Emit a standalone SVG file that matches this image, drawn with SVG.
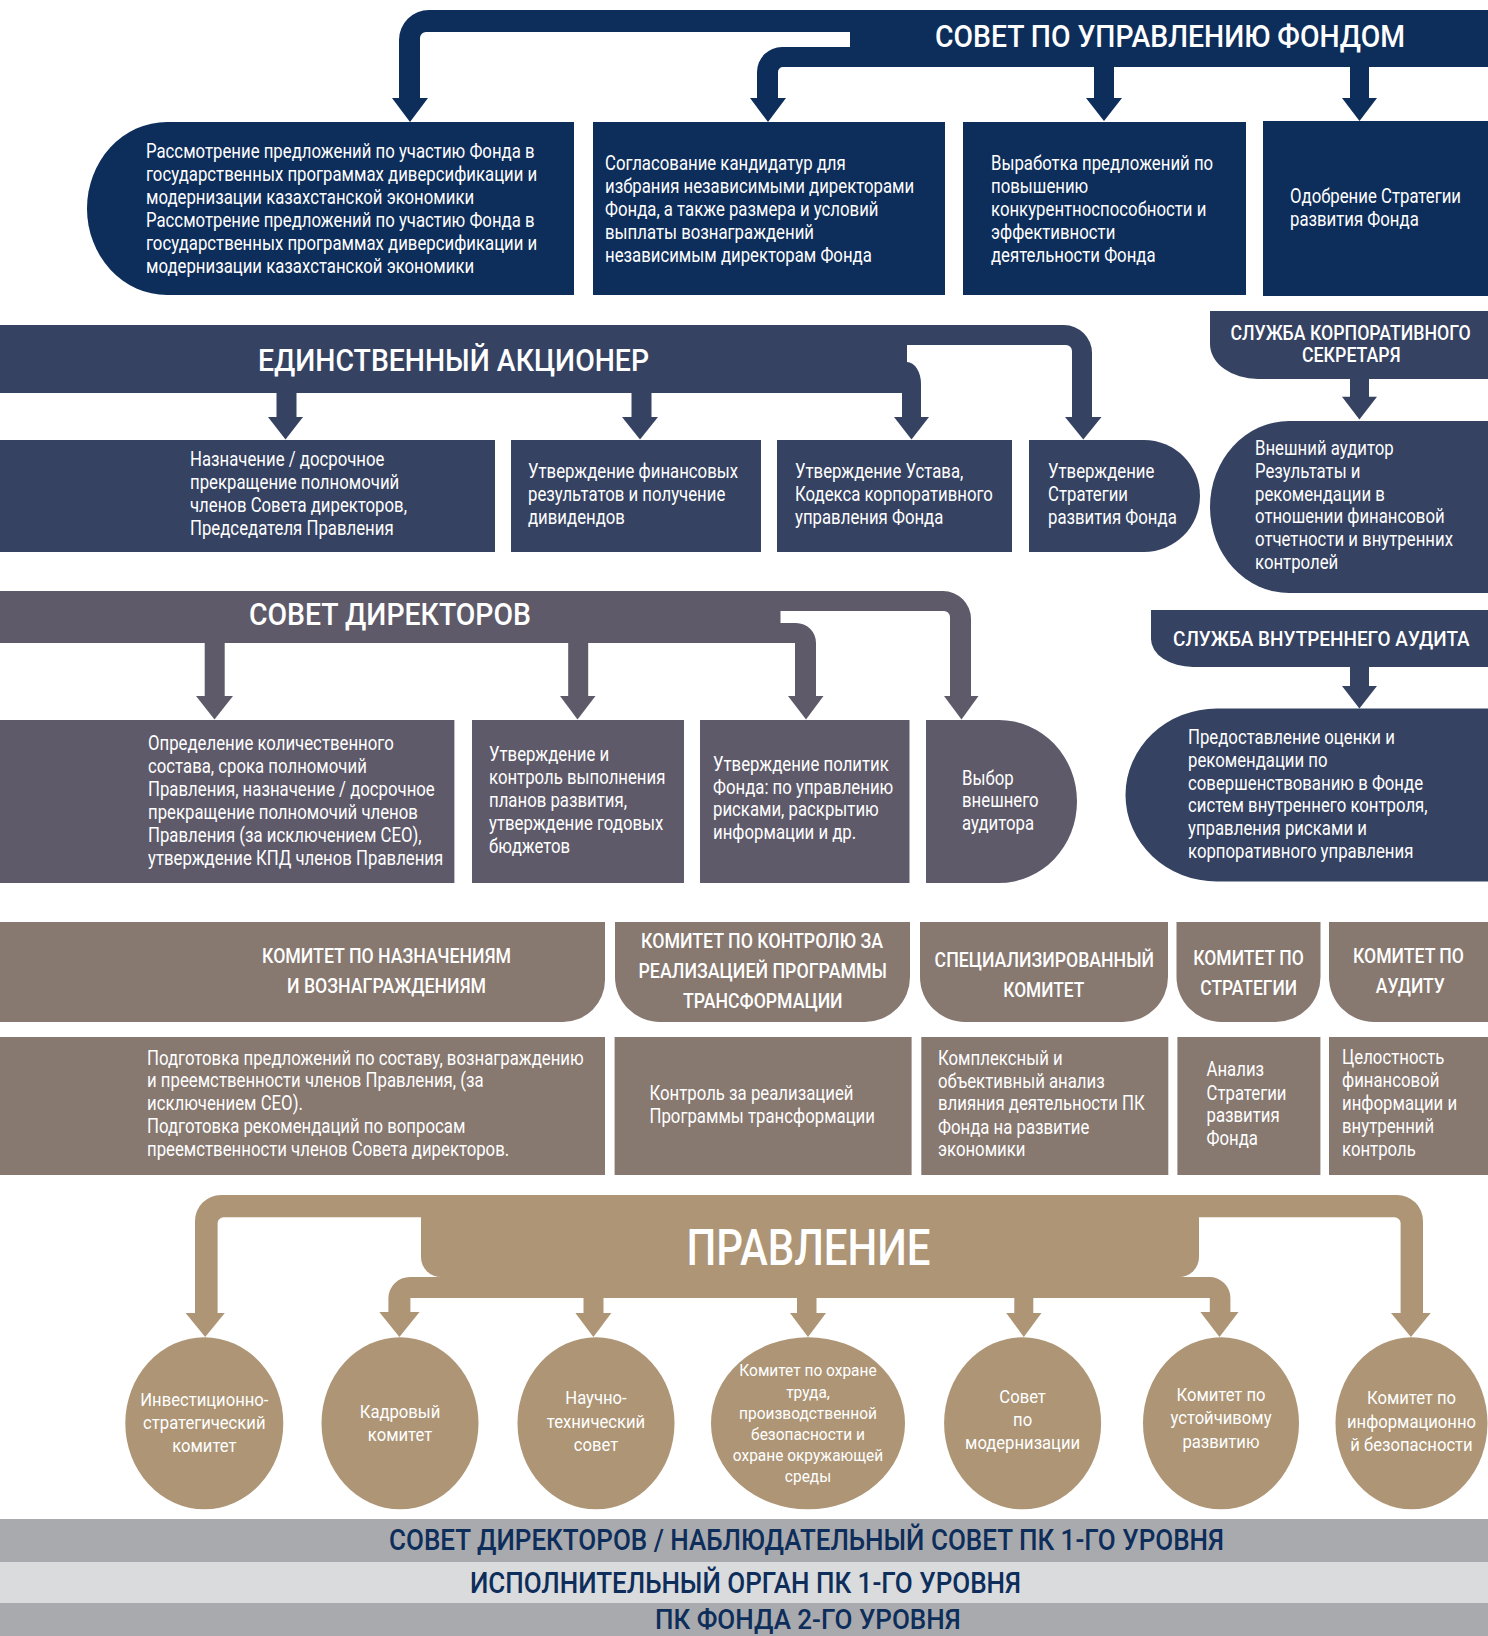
<svg xmlns="http://www.w3.org/2000/svg" width="1488" height="1636" viewBox="0 0 1488 1636">
<style>
.n{fill:#0d2d5b}.s{fill:#354262}.p{fill:#5e5a6a}.t{fill:#877870}.g{fill:#ad9575}
.bd{fill:#a9aaad}.bl{fill:#d9dbdc}
text{font-family:Roboto,"Liberation Sans","DejaVu Sans",sans-serif;fill:#fff}
.b{font-size:19.5px}
.e{font-size:19px;text-anchor:middle}
.e4{font-size:17px;text-anchor:middle}
.h{font-size:20px;font-weight:500}
.T{font-weight:500}
.band{font-size:29px;font-weight:500;fill:#0d2d5b}
</style>

<g id="connectors">
  <!-- Совет по управлению фондом -->
  <path class="n" d="M850,10 H429 A30,30 0 0 0 399,40 V99 H420 V38 A6,6 0 0 1 426,32 H850 Z"/>
  <polygon class="n" points="392,98 428,98 410,122"/>
  <path class="n" d="M850,47 H782 A25,25 0 0 0 757,72 V99 H778 V72 A5,5 0 0 1 783,67 H850 Z"/>
  <polygon class="n" points="750,98 786,98 768,122"/>
  <rect class="n" x="1094" y="66" width="20" height="33"/>
  <polygon class="n" points="1086,98 1122,98 1104,121"/>
  <rect class="n" x="1350" y="66" width="19" height="33"/>
  <polygon class="n" points="1342,98 1377,98 1359.5,121"/>

  <!-- Единственный акционер -->
  <path class="s" d="M900,325 H1064 A28,28 0 0 1 1092,353 V418 H1072 V351 A6,6 0 0 0 1066,345 H900 Z"/>
  <path class="s" d="M890,345 H907 V362 A14,22 0 0 1 921,384 V418 H902 V393 H890 Z"/>
  <rect class="s" x="276.5" y="392" width="20" height="26"/>
  <rect class="s" x="631.5" y="392" width="20" height="26"/>
  <polygon class="s" points="268,417 303,417 285.5,439.5"/>
  <polygon class="s" points="622,417 658,417 640,439.5"/>
  <polygon class="s" points="894,417 929,417 911.5,439.5"/>
  <polygon class="s" points="1065,417 1101.5,417 1083.3,439.5"/>
  <rect class="s" x="1350" y="378" width="19" height="20"/>
  <polygon class="s" points="1342,396.7 1377,396.7 1359.4,419.5"/>

  <!-- Совет директоров -->
  <path class="p" d="M775,591 H943 A28,28 0 0 1 971,619 V697 H950 V617 A6,6 0 0 0 944,611 H775 Z"/>
  <path class="p" d="M775,623 H796 A20,20 0 0 1 816,643 V697 H795 V643 H775 Z"/>
  <rect class="p" x="204.7" y="642" width="20" height="55"/>
  <rect class="p" x="568.2" y="642" width="20" height="55"/>
  <polygon class="p" points="196,696 233,696 214.5,719.5"/>
  <polygon class="p" points="560,696 595.5,696 577.5,719.5"/>
  <polygon class="p" points="788,696 823.5,696 806,719.5"/>
  <polygon class="p" points="944,696 978.5,696 961.5,719.5"/>
  <rect class="s" x="1350" y="666" width="19" height="21"/>
  <polygon class="s" points="1342,686 1377,686 1359.4,708.5"/>

  <!-- Правление -->
  <path class="g" d="M421,1195 H221 A26,26 0 0 0 195,1221 V1314 H217.6 V1223 A6,6 0 0 1 223.6,1217.3 H421 Z"/>
  <path class="g" d="M1199,1195 H1397 A26,26 0 0 1 1423,1221 V1314 H1400.6 V1223 A6,6 0 0 0 1394.6,1217.3 H1199 Z"/>
  <path class="g" d="M410,1277 H1209 A21,21 0 0 1 1230.4,1298 V1314 H1209.8 V1298 H410.4 V1314 H388.4 V1298 A21.6,21 0 0 1 410,1277 Z"/>
  <rect class="g" x="583.5" y="1297" width="20" height="17"/>
  <rect class="g" x="797" y="1297" width="19.5" height="17"/>
  <rect class="g" x="1014.3" y="1297" width="19" height="17"/>
  <polygon class="g" points="185.6,1313 224.8,1313 205.2,1337"/>
  <polygon class="g" points="379.3,1312 419.5,1312 399.4,1337"/>
  <polygon class="g" points="575.4,1313 611.3,1313 593.4,1337"/>
  <polygon class="g" points="790,1313 826,1313 808,1337"/>
  <polygon class="g" points="1006.2,1313 1041.5,1313 1023.8,1337"/>
  <polygon class="g" points="1200.4,1312 1238.5,1312 1219.5,1337"/>
  <polygon class="g" points="1391,1313 1430.7,1313 1410.9,1337"/>
</g>

<!-- Совет по управлению фондом -->
<g id="sovet-upr">
  <rect class="n" x="850" y="10" width="638" height="57"/>
  <text class="T" x="935" y="47" font-size="31" textLength="470" lengthAdjust="spacingAndGlyphs">СОВЕТ ПО УПРАВЛЕНИЮ ФОНДОМ</text>
</g>
<g id="su-1">
  <path class="n" d="M167,122 H574 V295 H167 A80,86.5 0 0 1 87,208.5 A80,86.5 0 0 1 167,122 Z"/>
  <g transform="translate(146,0) scale(0.86,1)"><text class="b"><tspan x="0" y="158">Рассмотрение предложений по участию Фонда в</tspan><tspan x="0" y="181">государственных программах диверсификации и</tspan><tspan x="0" y="204">модернизации казахстанской экономики</tspan><tspan x="0" y="227">Рассмотрение предложений по участию Фонда в</tspan><tspan x="0" y="250">государственных программах диверсификации и</tspan><tspan x="0" y="273">модернизации казахстанской экономики</tspan></text></g>
</g>
<g id="su-2">
  <rect class="n" x="593" y="122" width="352" height="173"/>
  <g transform="translate(605,0) scale(0.86,1)"><text class="b"><tspan x="0" y="170">Согласование кандидатур для</tspan><tspan x="0" y="193">избрания независимыми директорами</tspan><tspan x="0" y="216">Фонда, а также размера и условий</tspan><tspan x="0" y="239">выплаты вознаграждений</tspan><tspan x="0" y="262">независимым директорам Фонда</tspan></text></g>
</g>
<g id="su-3">
  <rect class="n" x="963" y="122" width="283" height="173"/>
  <g transform="translate(991,0) scale(0.86,1)"><text class="b"><tspan x="0" y="170">Выработка предложений по</tspan><tspan x="0" y="193">повышению</tspan><tspan x="0" y="216">конкурентноспособности и</tspan><tspan x="0" y="239">эффективности</tspan><tspan x="0" y="262">деятельности Фонда</tspan></text></g>
</g>
<g id="su-4">
  <rect class="n" x="1263" y="121" width="225" height="175"/>
  <g transform="translate(1290,0) scale(0.86,1)"><text class="b"><tspan x="0" y="203">Одобрение Стратегии</tspan><tspan x="0" y="226">развития Фонда</tspan></text></g>
</g>

<!-- Единственный акционер -->
<g id="akcioner">
  <rect class="s" x="0" y="325" width="907" height="68"/>
  <text class="T" x="258" y="371" font-size="31" textLength="391" lengthAdjust="spacingAndGlyphs">ЕДИНСТВЕННЫЙ АКЦИОНЕР</text>
</g>
<g id="ea-1">
  <rect class="s" x="0" y="440" width="495" height="112"/>
  <g transform="translate(190,0) scale(0.86,1)"><text class="b"><tspan x="0" y="466.5">Назначение / досрочное</tspan><tspan x="0" y="489.5">прекращение полномочий</tspan><tspan x="0" y="512.5">членов Совета директоров,</tspan><tspan x="0" y="535.5">Председателя Правления</tspan></text></g>
</g>
<g id="ea-2">
  <rect class="s" x="511" y="440" width="250" height="112"/>
  <g transform="translate(528,0) scale(0.86,1)"><text class="b"><tspan x="0" y="478">Утверждение финансовых</tspan><tspan x="0" y="501">результатов и получение</tspan><tspan x="0" y="524">дивидендов</tspan></text></g>
</g>
<g id="ea-3">
  <rect class="s" x="777" y="440" width="235" height="112"/>
  <g transform="translate(795,0) scale(0.86,1)"><text class="b"><tspan x="0" y="478">Утверждение Устава,</tspan><tspan x="0" y="501">Кодекса корпоративного</tspan><tspan x="0" y="524">управления Фонда</tspan></text></g>
</g>
<g id="ea-4">
  <path class="s" d="M1029,440 H1144 A56,56 0 0 1 1144,552 H1029 Z"/>
  <g transform="translate(1048,0) scale(0.86,1)"><text class="b"><tspan x="0" y="478">Утверждение</tspan><tspan x="0" y="501">Стратегии</tspan><tspan x="0" y="524">развития Фонда</tspan></text></g>
</g>

<!-- Служба корпоративного секретаря -->
<g id="sluzhba-ks">
  <path class="s" d="M1210,311 H1488 V379 H1258 A48,35 0 0 1 1210,344 Z"/>
  <g transform="translate(1230.4,0) scale(0.874,1)"><text class="h" x="0" y="340" textLength="275" lengthAdjust="spacingAndGlyphs">СЛУЖБА КОРПОРАТИВНОГО</text></g>
  <text class="h" x="1302" y="362" textLength="98.6" lengthAdjust="spacingAndGlyphs">СЕКРЕТАРЯ</text>
</g>
<g id="vneshniy-auditor">
  <path class="s" d="M1289,421 H1488 V593 H1289 A79,86 0 0 1 1210,507 A79,86 0 0 1 1289,421 Z"/>
  <g transform="translate(1255,0) scale(0.86,1)"><text class="b"><tspan x="0" y="455">Внешний аудитор</tspan><tspan x="0" y="478">Результаты и</tspan><tspan x="0" y="501">рекомендации в</tspan><tspan x="0" y="523">отношении финансовой</tspan><tspan x="0" y="546">отчетности и внутренних</tspan><tspan x="0" y="569">контролей</tspan></text></g>
</g>

<!-- Совет директоров -->
<g id="sovet-dir">
  <rect class="p" x="0" y="591" width="780.5" height="52"/>
  <text class="T" x="249" y="625" font-size="32" textLength="282" lengthAdjust="spacingAndGlyphs">СОВЕТ ДИРЕКТОРОВ</text>
</g>
<g id="sd-1">
  <rect class="p" x="0" y="720" width="454.4" height="163"/>
  <g transform="translate(148,0) scale(0.86,1)"><text class="b"><tspan x="0" y="750.5">Определение количественного</tspan><tspan x="0" y="773.5">состава, срока полномочий</tspan><tspan x="0" y="796.5">Правления, назначение / досрочное</tspan><tspan x="0" y="819">прекращение полномочий членов</tspan><tspan x="0" y="842">Правления (за исключением СЕО),</tspan><tspan x="0" y="865.5">утверждение КПД членов Правления</tspan></text></g>
</g>
<g id="sd-2">
  <rect class="p" x="472" y="720" width="212" height="163"/>
  <g transform="translate(489,0) scale(0.86,1)"><text class="b"><tspan x="0" y="761.5">Утверждение и</tspan><tspan x="0" y="784.5">контроль выполнения</tspan><tspan x="0" y="807.5">планов развития,</tspan><tspan x="0" y="830.5">утверждение годовых</tspan><tspan x="0" y="853">бюджетов</tspan></text></g>
</g>
<g id="sd-3">
  <rect class="p" x="700" y="720" width="209.5" height="163"/>
  <g transform="translate(713,0) scale(0.86,1)"><text class="b"><tspan x="0" y="771.5">Утверждение политик</tspan><tspan x="0" y="794">Фонда: по управлению</tspan><tspan x="0" y="816.5">рисками, раскрытию</tspan><tspan x="0" y="839">информации и др.</tspan></text></g>
</g>
<g id="sd-4">
  <path class="p" d="M926,720 H999 A78,81.5 0 0 1 999,883 H926 Z"/>
  <g transform="translate(962,0) scale(0.86,1)"><text class="b"><tspan x="0" y="785">Выбор</tspan><tspan x="0" y="807.5">внешнего</tspan><tspan x="0" y="830">аудитора</tspan></text></g>
</g>

<!-- Служба внутреннего аудита -->
<g id="sluzhba-va">
  <path class="s" d="M1151,610 H1488 V667 H1193 A42,28 0 0 1 1151,639 Z"/>
  <g transform="translate(1173,0) scale(0.94,1)"><text class="h" x="0" y="646" textLength="315.6" lengthAdjust="spacingAndGlyphs">СЛУЖБА ВНУТРЕННЕГО АУДИТА</text></g>
</g>
<g id="va-box">
  <path class="s" d="M1217,708.5 H1488 V881.5 H1217 A91.5,86.5 0 0 1 1125.5,795 A91.5,86.5 0 0 1 1217,708.5 Z"/>
  <g transform="translate(1188,0) scale(0.86,1)"><text class="b"><tspan x="0" y="744">Предоставление оценки и</tspan><tspan x="0" y="767">рекомендации по</tspan><tspan x="0" y="790">совершенствованию в Фонде</tspan><tspan x="0" y="812.5">систем внутреннего контроля,</tspan><tspan x="0" y="835.5">управления рисками и</tspan><tspan x="0" y="858">корпоративного управления</tspan></text></g>
</g>

<!-- Комитеты -->
<g id="kom-1">
  <path class="t" d="M0,922 H605 V980 A42,42 0 0 1 563,1022 H0 Z"/>
  <text class="h" x="262" y="963" textLength="249" lengthAdjust="spacingAndGlyphs">КОМИТЕТ ПО НАЗНАЧЕНИЯМ</text>
  <text class="h" x="287" y="993" textLength="199" lengthAdjust="spacingAndGlyphs">И ВОЗНАГРАЖДЕНИЯМ</text>
  <rect class="t" x="0" y="1037" width="605" height="138"/>
  <g transform="translate(147,0) scale(0.86,1)"><text class="b"><tspan x="0" y="1065">Подготовка предложений по составу, вознаграждению</tspan><tspan x="0" y="1087.5">и преемственности членов Правления, (за</tspan><tspan x="0" y="1110">исключением СЕО).</tspan><tspan x="0" y="1133">Подготовка рекомендаций по вопросам</tspan><tspan x="0" y="1156">преемственности членов Совета директоров.</tspan></text></g>
</g>
<g id="kom-2">
  <path class="t" d="M615,922 H910 V977 A45,45 0 0 1 865,1022 H660 A45,45 0 0 1 615,977 Z"/>
  <text class="h" x="641" y="948" textLength="242" lengthAdjust="spacingAndGlyphs">КОМИТЕТ ПО КОНТРОЛЮ ЗА</text>
  <text class="h" x="638.5" y="978" textLength="248.5" lengthAdjust="spacingAndGlyphs">РЕАЛИЗАЦИЕЙ ПРОГРАММЫ</text>
  <text class="h" x="683" y="1008" textLength="159.6" lengthAdjust="spacingAndGlyphs">ТРАНСФОРМАЦИИ</text>
  <rect class="t" x="614.6" y="1037" width="297" height="138"/>
  <g transform="translate(649.5,0) scale(0.86,1)"><text class="b"><tspan x="0" y="1100">Контроль за реализацией</tspan><tspan x="0" y="1123">Программы трансформации</tspan></text></g>
</g>
<g id="kom-3">
  <path class="t" d="M920,922 H1168 V977 A45,45 0 0 1 1123,1022 H965 A45,45 0 0 1 920,977 Z"/>
  <text class="h" x="934.6" y="966.5" textLength="219.4" lengthAdjust="spacingAndGlyphs">СПЕЦИАЛИЗИРОВАННЫЙ</text>
  <text class="h" x="1003.3" y="996.5" textLength="81" lengthAdjust="spacingAndGlyphs">КОМИТЕТ</text>
  <rect class="t" x="921.3" y="1037" width="247" height="138"/>
  <g transform="translate(938,0) scale(0.86,1)"><text class="b"><tspan x="0" y="1065">Комплексный и</tspan><tspan x="0" y="1088">объективный анализ</tspan><tspan x="0" y="1110.5">влияния деятельности ПК</tspan><tspan x="0" y="1134">Фонда на развитие</tspan><tspan x="0" y="1156.5">экономики</tspan></text></g>
</g>
<g id="kom-4">
  <path class="t" d="M1176.5,922 H1320.5 V977 A45,45 0 0 1 1275.5,1022 H1221.5 A45,45 0 0 1 1176.5,977 Z"/>
  <text class="h" x="1193.2" y="965" textLength="110.6" lengthAdjust="spacingAndGlyphs">КОМИТЕТ ПО</text>
  <text class="h" x="1200.3" y="995" textLength="96.8" lengthAdjust="spacingAndGlyphs">СТРАТЕГИИ</text>
  <rect class="t" x="1177.4" y="1037" width="143" height="138"/>
  <g transform="translate(1206.5,0) scale(0.86,1)"><text class="b"><tspan x="0" y="1076.5">Анализ</tspan><tspan x="0" y="1100">Стратегии</tspan><tspan x="0" y="1122.5">развития</tspan><tspan x="0" y="1145.5">Фонда</tspan></text></g>
</g>
<g id="kom-5">
  <path class="t" d="M1329,922 H1488 V1022 H1374 A45,45 0 0 1 1329,977 Z"/>
  <text class="h" x="1353" y="962.7" textLength="111" lengthAdjust="spacingAndGlyphs">КОМИТЕТ ПО</text>
  <text class="h" x="1375.8" y="993" textLength="69" lengthAdjust="spacingAndGlyphs">АУДИТУ</text>
  <rect class="t" x="1329" y="1037" width="159" height="138"/>
  <g transform="translate(1342,0) scale(0.86,1)"><text class="b"><tspan x="0" y="1064">Целостность</tspan><tspan x="0" y="1087.5">финансовой</tspan><tspan x="0" y="1110">информации и</tspan><tspan x="0" y="1133">внутренний</tspan><tspan x="0" y="1156">контроль</tspan></text></g>
</g>

<!-- Правление -->
<g id="pravlenie">
  <path class="g" d="M421,1195 H1199 V1257 A20,20 0 0 1 1179,1277 H441 A20,20 0 0 1 421,1257 Z"/>
  <text class="T" x="686.5" y="1265" font-size="50" textLength="244" lengthAdjust="spacingAndGlyphs">ПРАВЛЕНИЕ</text>
</g>
<g id="pr-1">
  <ellipse class="g" cx="204.3" cy="1423.3" rx="79" ry="86"/>
  <g transform="translate(204.3,0) scale(0.875,1)"><text class="e"><tspan x="0" y="1406">Инвестиционно-</tspan><tspan x="0" y="1429">стратегический</tspan><tspan x="0" y="1452">комитет</tspan></text></g>
</g>
<g id="pr-2">
  <ellipse class="g" cx="400" cy="1423.3" rx="78.5" ry="86"/>
  <g transform="translate(400,0) scale(0.875,1)"><text class="e"><tspan x="0" y="1418">Кадровый</tspan><tspan x="0" y="1441">комитет</tspan></text></g>
</g>
<g id="pr-3">
  <ellipse class="g" cx="596" cy="1423.3" rx="78.5" ry="86"/>
  <g transform="translate(596,0) scale(0.875,1)"><text class="e"><tspan x="0" y="1404.5">Научно-</tspan><tspan x="0" y="1428">технический</tspan><tspan x="0" y="1451">совет</tspan></text></g>
</g>
<g id="pr-4">
  <ellipse class="g" cx="808" cy="1423.3" rx="97" ry="86"/>
  <g transform="translate(808,0) scale(0.91,1)"><text class="e4"><tspan x="0" y="1376">Комитет по охране</tspan><tspan x="0" y="1398">труда,</tspan><tspan x="0" y="1419">производственной</tspan><tspan x="0" y="1440.5">безопасности и</tspan><tspan x="0" y="1461.5">охране окружающей</tspan><tspan x="0" y="1482">среды</tspan></text></g>
</g>
<g id="pr-5">
  <ellipse class="g" cx="1022.6" cy="1423.3" rx="78.5" ry="86"/>
  <g transform="translate(1022.6,0) scale(0.875,1)"><text class="e"><tspan x="0" y="1403">Совет</tspan><tspan x="0" y="1426">по</tspan><tspan x="0" y="1449.5">модернизации</tspan></text></g>
</g>
<g id="pr-6">
  <ellipse class="g" cx="1221" cy="1423.3" rx="78" ry="86"/>
  <g transform="translate(1221,0) scale(0.875,1)"><text class="e"><tspan x="0" y="1401">Комитет по</tspan><tspan x="0" y="1424.5">устойчивому</tspan><tspan x="0" y="1448">развитию</tspan></text></g>
</g>
<g id="pr-7">
  <ellipse class="g" cx="1411.5" cy="1423.3" rx="76" ry="86"/>
  <g transform="translate(1411.5,0) scale(0.875,1)"><text class="e"><tspan x="0" y="1404.5">Комитет по</tspan><tspan x="0" y="1428">информационно</tspan><tspan x="0" y="1451">й безопасности</tspan></text></g>
</g>

<!-- Уровни -->
<g id="level-1">
  <rect class="bd" x="0" y="1519" width="1488" height="43"/>
  <text class="band" x="389" y="1550" textLength="835" lengthAdjust="spacingAndGlyphs">СОВЕТ ДИРЕКТОРОВ / НАБЛЮДАТЕЛЬНЫЙ СОВЕТ ПК 1-ГО УРОВНЯ</text>
</g>
<g id="level-2">
  <rect class="bl" x="0" y="1562" width="1488" height="41"/>
  <text class="band" x="470" y="1593" textLength="551" lengthAdjust="spacingAndGlyphs">ИСПОЛНИТЕЛЬНЫЙ ОРГАН ПК 1-ГО УРОВНЯ</text>
</g>
<g id="level-3">
  <rect class="bd" x="0" y="1603" width="1488" height="33"/>
  <text class="band" x="655" y="1629" font-size="28" textLength="305.6" lengthAdjust="spacingAndGlyphs" style="font-size:28px">ПК ФОНДА 2-ГО УРОВНЯ</text>
</g>
</svg>
